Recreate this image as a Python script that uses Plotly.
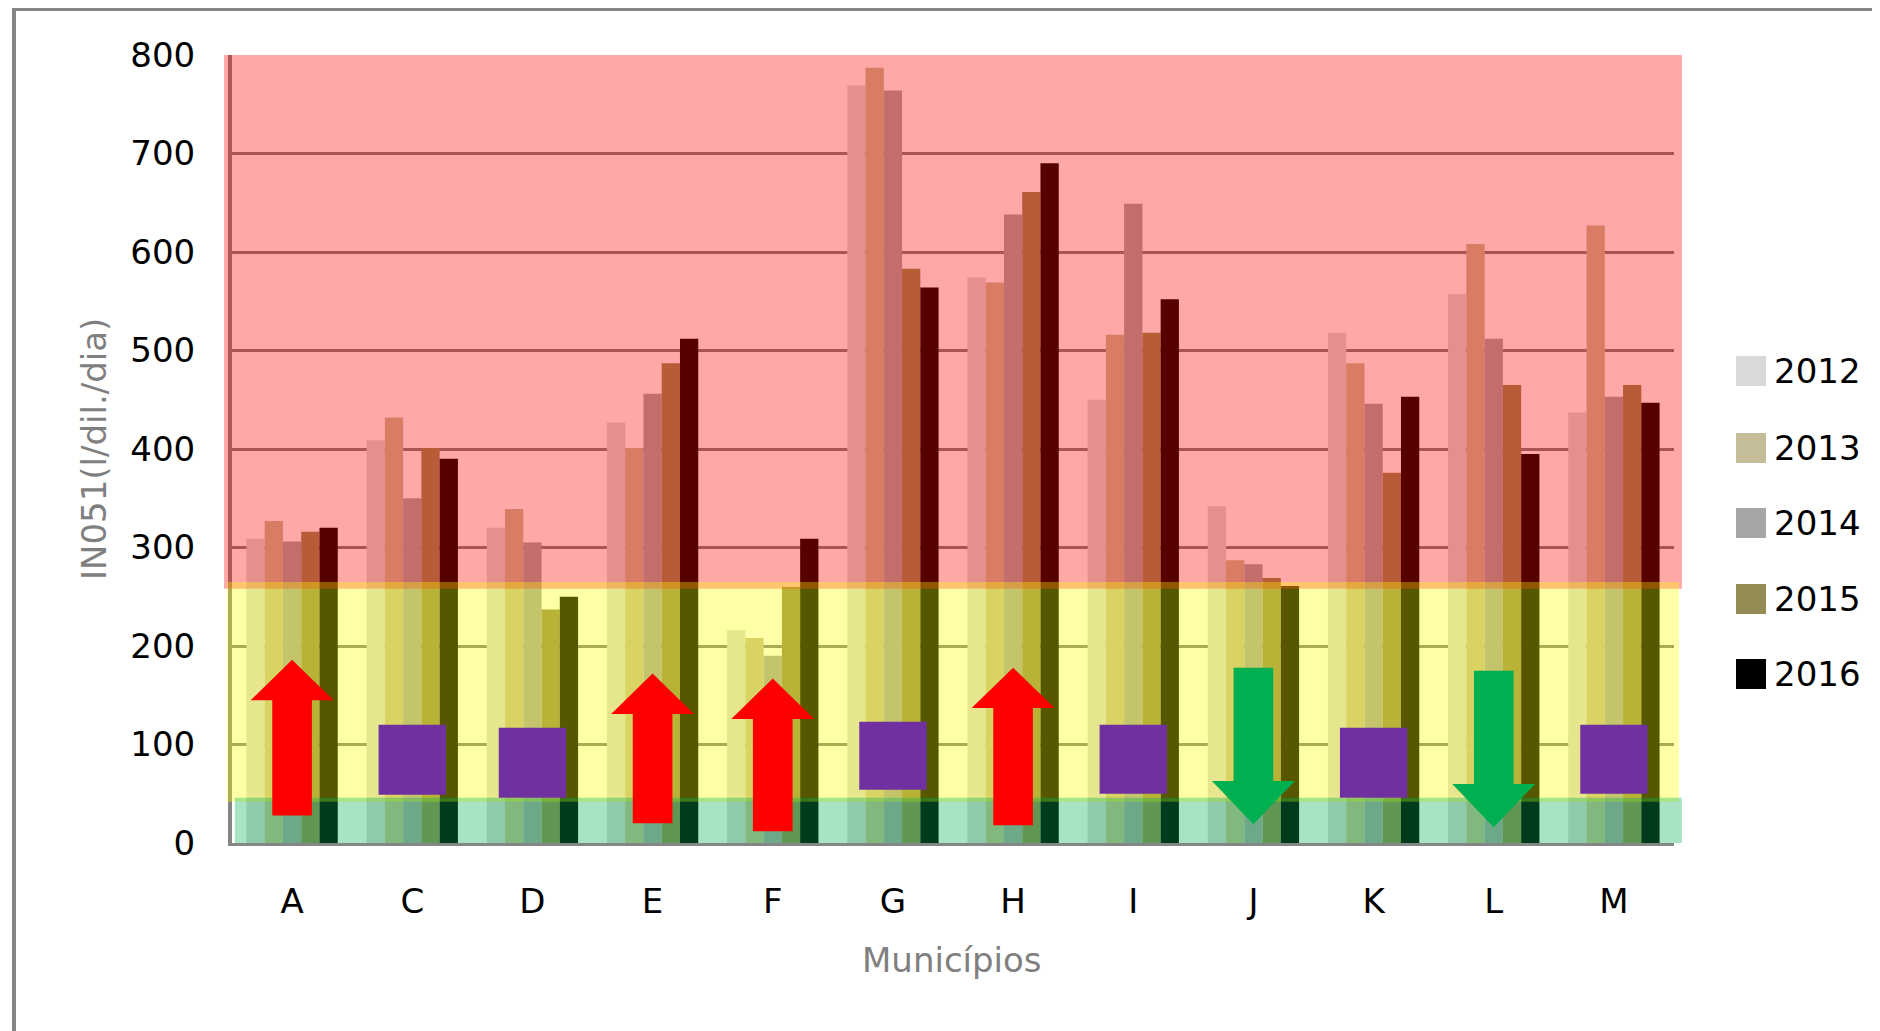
import plotly.graph_objects as go

# data
municipios = ["A", "C", "D", "E", "F", "G", "H", "I", "J", "K", "L", "M"]
anos = ["2012", "2013", "2014", "2015", "2016"]
v2012 = [309, 409, 320, 427, 216, 769, 574, 450, 342, 518, 557, 437]
v2013 = [327, 432, 339, 401, 208, 787, 569, 516, 287, 487, 608, 627]
v2014 = [306, 350, 305, 456, 190, 764, 638, 649, 283, 446, 512, 453]
v2015 = [316, 401, 237, 487, 260, 583, 661, 518, 269, 376, 465, 465]
v2016 = [320, 390, 250, 512, 309, 564, 690, 552, 261, 453, 395, 447]
tendencia = ["sobe", "estavel", "estavel", "sobe", "sobe", "estavel",
             "sobe", "estavel", "desce", "estavel", "desce", "estavel"]

# performance bands
faixa_verde = (0, 46)
faixa_amarela = (42, 265)
faixa_vermelha = (258, 802)

CORES = ["#d9d9d9", "#c4bd97", "#a6a6a6", "#948a54", "#000000"]
FONT = "DejaVu Sans"

# plot area in screen pixels (the page body adds an 8px offset)
OFF = 8
L, R, T, B = 232, 1674, 55, 843
W, H = R - L, B - T


def px_x(px):
    return (px - L) / W


def px_y(py):
    return (B - py) / H


fig = go.Figure()
for ano, vals, cor in zip(anos, [v2012, v2013, v2014, v2015, v2016], CORES):
    fig.add_trace(go.Bar(x=municipios, y=vals, name=ano, marker_color=cor,
                         marker_line_width=0, showlegend=False))

shapes = []
# translucent bands laid over bars and grid
for (y0, y1), cor, xa, xb in [
    (faixa_vermelha, "rgba(255,0,0,0.34)", -0.0055, 1.0055),
    (faixa_amarela, "rgba(255,255,0,0.34)", -0.0035, 1.0035),
    (faixa_verde, "rgba(0,176,80,0.34)", 0.002, 1.0055),
]:
    shapes.append(dict(type="rect", xref="x domain", yref="y", x0=xa, x1=xb,
                       y0=y0, y1=y1, fillcolor=cor, line_width=0, layer="above"))

# trend markers: arrows up/down, purple squares for stable
span_seta = {"A": (28, 186), "E": (20, 172), "F": (12, 167), "H": (18, 178),
             "J": (178, 19), "L": (175, 16)}
span_quad = {"C": (49, 120), "D": (46, 117), "G": (54, 123), "I": (50, 120),
             "K": (46, 117), "M": (50, 120)}
for i, (m, t) in enumerate(zip(municipios, tendencia)):
    if t == "estavel":
        y0, y1 = span_quad[m]
        shapes.append(dict(type="rect", xref="x", yref="y", x0=i - 0.28, x1=i + 0.28,
                           y0=y0, y1=y1, fillcolor="#7030a0", line_width=0, layer="above"))
    else:
        base, tip = span_seta[m]
        sw, hw = 0.165, 0.345
        head = 41 if t == "sobe" else -44
        neck = tip - head
        cor = "#ff0000" if t == "sobe" else "#00b050"
        path = (f"M{i - sw},{base} L{i - sw},{neck} L{i - hw},{neck} L{i},{tip} "
                f"L{i + hw},{neck} L{i + sw},{neck} L{i + sw},{base} Z")
        shapes.append(dict(type="path", xref="x", yref="y", path=path,
                           fillcolor=cor, line_width=0, layer="above"))

# outer chart frame
shapes.append(dict(type="rect", xref="paper", yref="paper", x0=px_x(14), x1=px_x(1910),
                   y0=px_y(1060), y1=px_y(9), line=dict(color="#868686", width=4),
                   fillcolor="rgba(0,0,0,0)", layer="below"))

annotations = [
    dict(text="Municípios", xref="paper", yref="paper", x=px_x(952), y=px_y(960),
         xanchor="center", yanchor="middle", showarrow=False,
         font=dict(size=34, color="#7f7f7f")),
    dict(text="IN051(l/dil./dia)", xref="paper", yref="paper", x=px_x(94), y=0.5,
         xanchor="center", yanchor="middle", textangle=-90, showarrow=False,
         font=dict(size=34, color="#7f7f7f")),
]

# manual legend with large swatches
leg_y = [371, 448, 523, 599, 674]
for ano, cor, yc in zip(anos, CORES, leg_y):
    shapes.append(dict(type="rect", xref="paper", yref="paper",
                       x0=px_x(1736), x1=px_x(1766), y0=px_y(yc + 15), y1=px_y(yc - 15),
                       fillcolor=cor, line_width=0))
    annotations.append(dict(text=ano, xref="paper", yref="paper", x=px_x(1772), y=px_y(yc),
                            xanchor="left", yanchor="middle", showarrow=False,
                            font=dict(size=34, color="#000000")))

fig.update_layout(
    width=1880, height=1031,
    margin=dict(l=L - OFF, r=1880 - (R - OFF), t=T - OFF, b=1031 - (B - OFF)),
    paper_bgcolor="white", plot_bgcolor="white",
    font=dict(family=FONT, size=34, color="#000000"),
    barmode="group", bargap=0.24, bargroupgap=0,
    shapes=shapes, annotations=annotations,
    xaxis=dict(type="category", showline=True, linecolor="#868686", linewidth=3,
               showgrid=False, ticks="", ticklabelstandoff=26,
               tickfont=dict(size=34, color="#000000")),
    yaxis=dict(range=[0, 800], dtick=100, showline=True, linecolor="#868686", linewidth=4,
               showgrid=True, gridcolor="#808080", gridwidth=3, zeroline=False,
               ticks="", ticklabelstandoff=26, tickfont=dict(size=34, color="#000000")),
)

fig.write_html("out.html")
